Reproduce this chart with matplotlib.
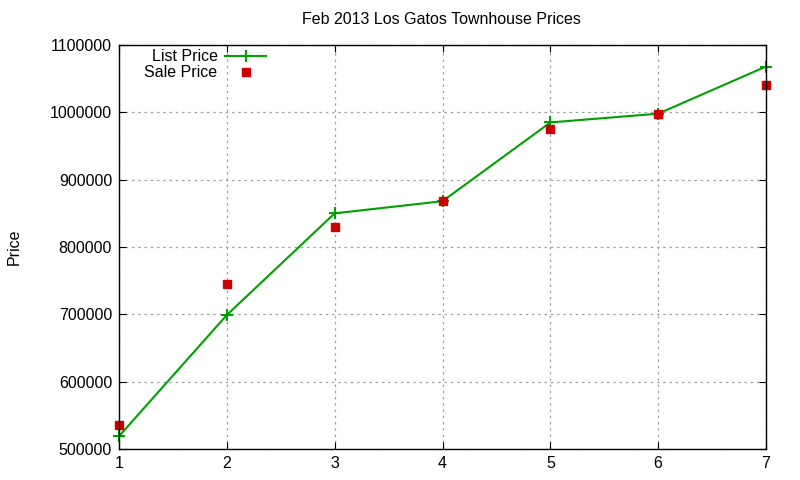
import matplotlib
matplotlib.use("Agg")
import matplotlib.pyplot as plt

x = [1, 2, 3, 4, 5, 6, 7]
list_price = [519000, 699000, 850000, 868000, 985000, 998000, 1068000]
sale_price = [536000, 745500, 830000, 868800, 975500, 998000, 1041000]
yticks = [500000, 600000, 700000, 800000, 900000, 1000000, 1100000]

plt.rcParams['font.family'] = ['Liberation Sans', 'DejaVu Sans']
fig = plt.figure(figsize=(8, 4.8), dpi=100)
ax = fig.add_axes([119/800, 1 - 449/480, (766-119)/800, (449-45)/480])

ax.plot(x, list_price, color='#00a000', linewidth=1.5, marker='+', markersize=8,
        markeredgewidth=1.5, label='List Price', clip_on=False, zorder=3)
ax.plot(x, sale_price, linestyle='none', color='#cc0000', marker='s', markersize=6,
        label='Sale Price', clip_on=False, zorder=3)

ax.set_xlim(1, 7)
ax.set_ylim(500000, 1100000)
ax.set_xticks(x)
ax.set_yticks(yticks)
ax.set_yticklabels([str(v) for v in yticks])
ax.grid(True, color='#a0a0a0', linestyle=(0, (2, 3)), linewidth=0.9)
ax.tick_params(direction='in', top=True, right=True, labelsize=11.5, length=5, pad=5)
for s in ax.spines.values():
    s.set_linewidth(1.0)
    s.set_color('black')
    s.set_zorder(4)

ax.set_ylabel('Price', fontsize=11.5, labelpad=20)
fig.text(441/800, 1 - 20/480, 'Feb 2013 Los Gatos Townhouse Prices', ha='center', va='center', fontsize=11.5)

leg = ax.legend(loc='upper left', bbox_to_anchor=(0.0295, 1.005), markerfirst=False, frameon=False,
                fontsize=11.5, handlelength=2.6, handletextpad=0.45, labelspacing=0.05,
                borderaxespad=0)
for t in leg.get_texts():
    t.set_ha('right')
fig.savefig('out.png', dpi=100)
